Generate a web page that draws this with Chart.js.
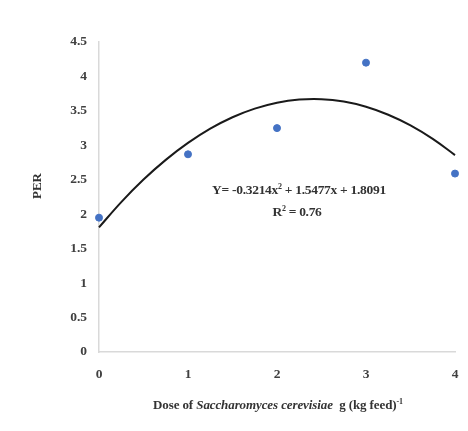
<!DOCTYPE html>
<html>
<head>
<meta charset="utf-8">
<script src="https://cdn.jsdelivr.net/npm/chart.js@4/dist/chart.umd.min.js"></script>
<style>
  html, body { margin: 0; padding: 0; background: #fff; }
  #wrap { position: relative; width: 468px; height: 431px; }
  canvas { position: absolute; left: 0; top: 0; }
  .txt { position: absolute; font-family: "Liberation Serif", "Times New Roman", serif; color: #333; white-space: nowrap; }
  #ytitle { left: 37px; top: 186px; font-weight: bold; font-size: 13px; transform: translate(-50%, -50%) rotate(-90deg); }
  #xtitle { left: 278px; top: 405px; font-weight: bold; font-size: 13px; transform: translate(-50%, -50%); letter-spacing: -0.1px; }
  #eq { left: 299px; top: 190px; font-weight: bold; font-size: 13.5px; transform: translate(-50%, -50%); letter-spacing: -0.3px; }
  #r2 { left: 297px; top: 212px; font-weight: bold; font-size: 13.5px; transform: translate(-50%, -50%); letter-spacing: -0.3px; }
  .txt sup { font-size: 8px; vertical-align: 5px; line-height: 0; }
</style>
</head>
<body>
<div id="wrap">
  <canvas id="c" width="468" height="431"></canvas>
  <div class="txt" id="ytitle">PER</div>
  <div class="txt" id="xtitle">Dose of <i>Saccharomyces cerevisiae</i>&nbsp; g (kg feed)<sup>-1</sup></div>
  <div class="txt" id="eq">Y= -0.3214x<sup>2</sup> + 1.5477x + 1.8091</div>
  <div class="txt" id="r2">R<sup>2</sup> = 0.76</div>
</div>
<script>
// Observed points
const doses = [0, 1, 2, 3, 4];
const perValues = [1.95, 2.87, 3.25, 4.20, 2.59];
// Trend curve
const curveX = [0, 0.25, 0.5, 0.75, 1, 1.25, 1.5, 1.75, 2, 2.25, 2.5, 2.75, 3, 3.25, 3.5, 3.75, 4];
const curveY = [1.809, 2.176, 2.503, 2.789, 3.035, 3.242, 3.408, 3.533, 3.619, 3.664, 3.670, 3.635, 3.560, 3.444, 3.289, 3.093, 2.858];
// Axis ticks
const xTicks = [0, 1, 2, 3, 4];
const yTicks = [0, 0.5, 1, 1.5, 2, 2.5, 3, 3.5, 4, 4.5];

const pts = doses.map((d, i) => ({ x: d, y: perValues[i] }));
const curve = curveX.map((d, i) => ({ x: d, y: curveY[i] }));

const tickFont = { family: "'Liberation Serif', 'Times New Roman', serif", size: 13.5, weight: 'bold' };

new Chart(document.getElementById('c'), {
  type: 'scatter',
  data: {
    datasets: [
      {
        label: 'Trend',
        data: curve,
        showLine: true,
        borderColor: '#1a1a1a',
        borderWidth: 2,
        pointRadius: 0,
        tension: 0.4,
        fill: false,
        clip: false,
        order: 2
      },
      {
        label: 'PER',
        data: pts,
        backgroundColor: '#4472C4',
        borderColor: '#4472C4',
        pointRadius: 3.5,
        clip: false,
        order: 1
      }
    ]
  },
  options: {
    responsive: false,
    animation: false,
    layout: { padding: { top: 42, right: 13, left: 0, bottom: 0 } },
    plugins: { legend: { display: false }, tooltip: { enabled: false } },
    scales: {
      x: {
        type: 'linear',
        min: 0, max: 4,
        afterBuildTicks: s => { s.ticks = xTicks.map(v => ({ value: v })); },
        afterFit: s => { s.height = 431 - 352; s.paddingRight = 0; s.paddingLeft = 0; },
        grid: { display: false, drawTicks: false },
        border: { display: true, color: '#d9d9d9', width: 1.5 },
        ticks: { color: '#404040', font: tickFont, padding: 14, maxRotation: 0, callback: v => String(v) }
      },
      y: {
        type: 'linear',
        min: 0, max: 4.5,
        afterBuildTicks: s => { s.ticks = yTicks.map(v => ({ value: v })); },
        afterFit: s => { s.width = 99; s.paddingTop = 0; s.paddingBottom = 0; },
        grid: { display: false, drawTicks: false },
        border: { display: true, color: '#d9d9d9', width: 1.5 },
        ticks: { color: '#404040', font: tickFont, padding: 12, callback: v => String(v) }
      }
    }
  }
});
</script>
</body>
</html>
